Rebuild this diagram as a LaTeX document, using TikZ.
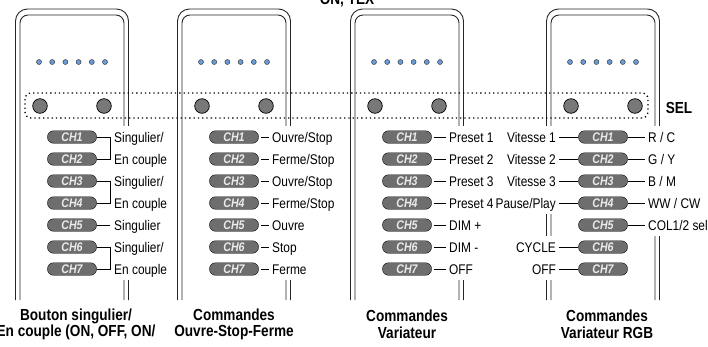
\documentclass[tikz,border=0pt]{standalone}
\usepackage{fontspec}
\setmainfont{Liberation Sans}[FakeStretch=0.85]
\usepackage{xcolor}
\usepackage{tikz}
\usetikzlibrary{positioning}
\definecolor{pillgray}{HTML}{6E6E6E}
\definecolor{ledblue}{HTML}{6A9BD8}
\definecolor{btngray}{HTML}{787878}
\tikzset{
    remote/.style={draw=black!85, line width=0.9pt, rounded corners=12pt},
    remoteinner/.style={draw=black!85, line width=0.9pt, rounded corners=8pt},
    led/.style={draw=black!75, fill=ledblue, line width=0.5pt},
    btn/.style={draw=black, fill=btngray, line width=0.7pt},
    selbox/.style={draw=black, line width=1.3pt, dash pattern=on 1.3pt off 3pt, rounded corners=6pt},
    pill/.style={rectangle, draw=black, fill=pillgray, rounded corners=6pt, minimum width=49pt, minimum height=12.5pt, inner sep=0pt, text height=8.8pt, text depth=0pt, text=white!92!black, font=\fontsize{12.5}{13}\selectfont\bfseries\itshape},
    lbl/.style={fill=white, inner xsep=3pt, inner ysep=0pt, text height=10pt, text depth=0pt, minimum height=22pt, font=\fontsize{14}{16}\selectfont},
    tick/.style={line width=0.9pt},
    gap/.style={tick, shorten <=2.5pt},
    title/.style={align=center, inner sep=0pt, font=\fontsize{16}{16.5}\selectfont\bfseries},
}

\begin{document}
\begin{tikzpicture}[x=1pt, y=-1pt]
    \useasboundingbox (0,0) rectangle (708,346);

    % remote bodies, leds and buttons
    \foreach \L in {15.5, 177.5, 350.5, 546.5} {
        \draw[remote] (\L,300) -- (\L,9) -- (\L+113,9) -- (\L+113,300);
        \draw[remoteinner] (\L+4.5,300) -- (\L+4.5,15) -- (\L+108.5,15) -- (\L+108.5,300);
        \foreach \k in {-2.5,-1.5,...,2.5}
            \draw[led] (\L+56.5+13.2*\k,62) circle (2.5pt);
        \draw[btn] (\L+24.5,106) circle (7.3pt);
        \draw[btn] (\L+88.5,106) circle (7.3pt);
    }

    \draw[selbox] (25,93) rectangle (648,118);
    \node[font=\fontsize{16}{16}\selectfont\bfseries] (sel) at (679,107.5) {SEL};

    \node[title, anchor=base] (top) at (347,4.5) {ON, TEX};

    % channel keys
    \foreach \c/\n in {72/1, 234/2, 407/3, 603/4}
        \foreach \i in {1,...,7}
            \node[pill] (r\n-ch\i) at (\c,137+22*\i-22) {CH\i};

    % Bouton singulier / En couple
    \node[lbl, anchor=west, inner xsep=4pt] (r1-l1) at (110,137) {Singulier/};
    \node[lbl, anchor=west, inner xsep=4pt] (r1-l2) at (110,159) {En couple};
    \node[lbl, anchor=west, inner xsep=4pt] (r1-l3) at (110,181) {Singulier/};
    \node[lbl, anchor=west, inner xsep=4pt] (r1-l4) at (110,203) {En couple};
    \node[lbl, anchor=west, inner xsep=4pt] (r1-l5) at (110,225) {Singulier};
    \node[lbl, anchor=west, inner xsep=4pt] (r1-l6) at (110,247) {Singulier/};
    \node[lbl, anchor=west, inner xsep=4pt] (r1-l7) at (110,269) {En couple};

    \draw[tick] (r1-ch1.east) -- (r1-ch1.east -| r1-l1.west) -- (r1-ch2.east -| r1-l1.west) -- (r1-ch2.east);
    \draw[tick] (r1-ch3.east) -- (r1-ch3.east -| r1-l3.west) -- (r1-ch4.east -| r1-l3.west) -- (r1-ch4.east);
    \draw[tick] (r1-ch5.east) -- (r1-l5.west);
    \draw[tick] (r1-ch6.east) -- (r1-ch6.east -| r1-l6.west) -- (r1-ch7.east -| r1-l6.west) -- (r1-ch7.east);

    % Ouvre-Stop-Ferme
    \node[lbl, anchor=west] (r2-l1) at (269,137) {Ouvre/Stop};
    \node[lbl, anchor=west] (r2-l2) at (269,159) {Ferme/Stop};
    \node[lbl, anchor=west] (r2-l3) at (269,181) {Ouvre/Stop};
    \node[lbl, anchor=west] (r2-l4) at (269,203) {Ferme/Stop};
    \node[lbl, anchor=west] (r2-l5) at (269,225) {Ouvre};
    \node[lbl, anchor=west] (r2-l6) at (269,247) {Stop};
    \node[lbl, anchor=west] (r2-l7) at (269,269) {Ferme};

    % Variateur
    \node[lbl, anchor=west] (r3-l1) at (446,137) {Preset 1};
    \node[lbl, anchor=west] (r3-l2) at (446,159) {Preset 2};
    \node[lbl, anchor=west] (r3-l3) at (446,181) {Preset 3};
    \node[lbl, anchor=west] (r3-l4) at (446,203) {Preset 4};
    \node[lbl, anchor=west] (r3-l5) at (446,225) {DIM +};
    \node[lbl, anchor=west] (r3-l6) at (446,247) {DIM -};
    \node[lbl, anchor=west] (r3-l7) at (446,269) {OFF};

    \foreach \i in {1,...,7} {
        \draw[gap] (r2-ch\i.east) -- (r2-l\i.west);
        \draw[gap] (r3-ch\i.east) -- (r3-l\i.west);
    }

    % Variateur RGB
    \node[lbl, anchor=east, inner xsep=1pt] (r4-v1) at (557,137) {Vitesse 1};
    \node[lbl, anchor=east, inner xsep=1pt] (r4-v2) at (557,159) {Vitesse 2};
    \node[lbl, anchor=east, inner xsep=1pt] (r4-v3) at (557,181) {Vitesse 3};
    \node[lbl, anchor=east, inner xsep=1pt] (r4-v4) at (557,203) {Pause/Play};
    \node[lbl, anchor=east, inner xsep=1pt] (r4-v6) at (557,247) {CYCLE};
    \node[lbl, anchor=east, inner xsep=1pt] (r4-v7) at (557,269) {OFF};

    \node[lbl, anchor=west] (r4-l1) at (645,137) {R / C};
    \node[lbl, anchor=west] (r4-l2) at (645,159) {G / Y};
    \node[lbl, anchor=west] (r4-l3) at (645,181) {B / M};
    \node[lbl, anchor=west] (r4-l4) at (645,203) {WW / CW};
    \node[lbl, anchor=west] (r4-l5) at (645,225) {COL1/2 sel};

    \foreach \i in {1,2,3,4,6,7}
        \draw[tick, shorten <=2pt] (r4-v\i.east) -- (r4-ch\i.west);
    \foreach \i in {1,...,5}
        \draw[tick] (r4-ch\i.east) -- (r4-l\i.west);

    % titles
    \node[title] (t1) at (76,324.5) {Bouton singulier/\\En couple (ON, OFF, ON/};
    \node[title] (t2) at (234,324.5) {Commandes\\Ouvre-Stop-Ferme};
    \node[title] (t3) at (407,324.5) {Commandes\\Variateur};
    \node[title] (t4) at (607,324.5) {Commandes\\Variateur RGB};

\end{tikzpicture}
\end{document}
